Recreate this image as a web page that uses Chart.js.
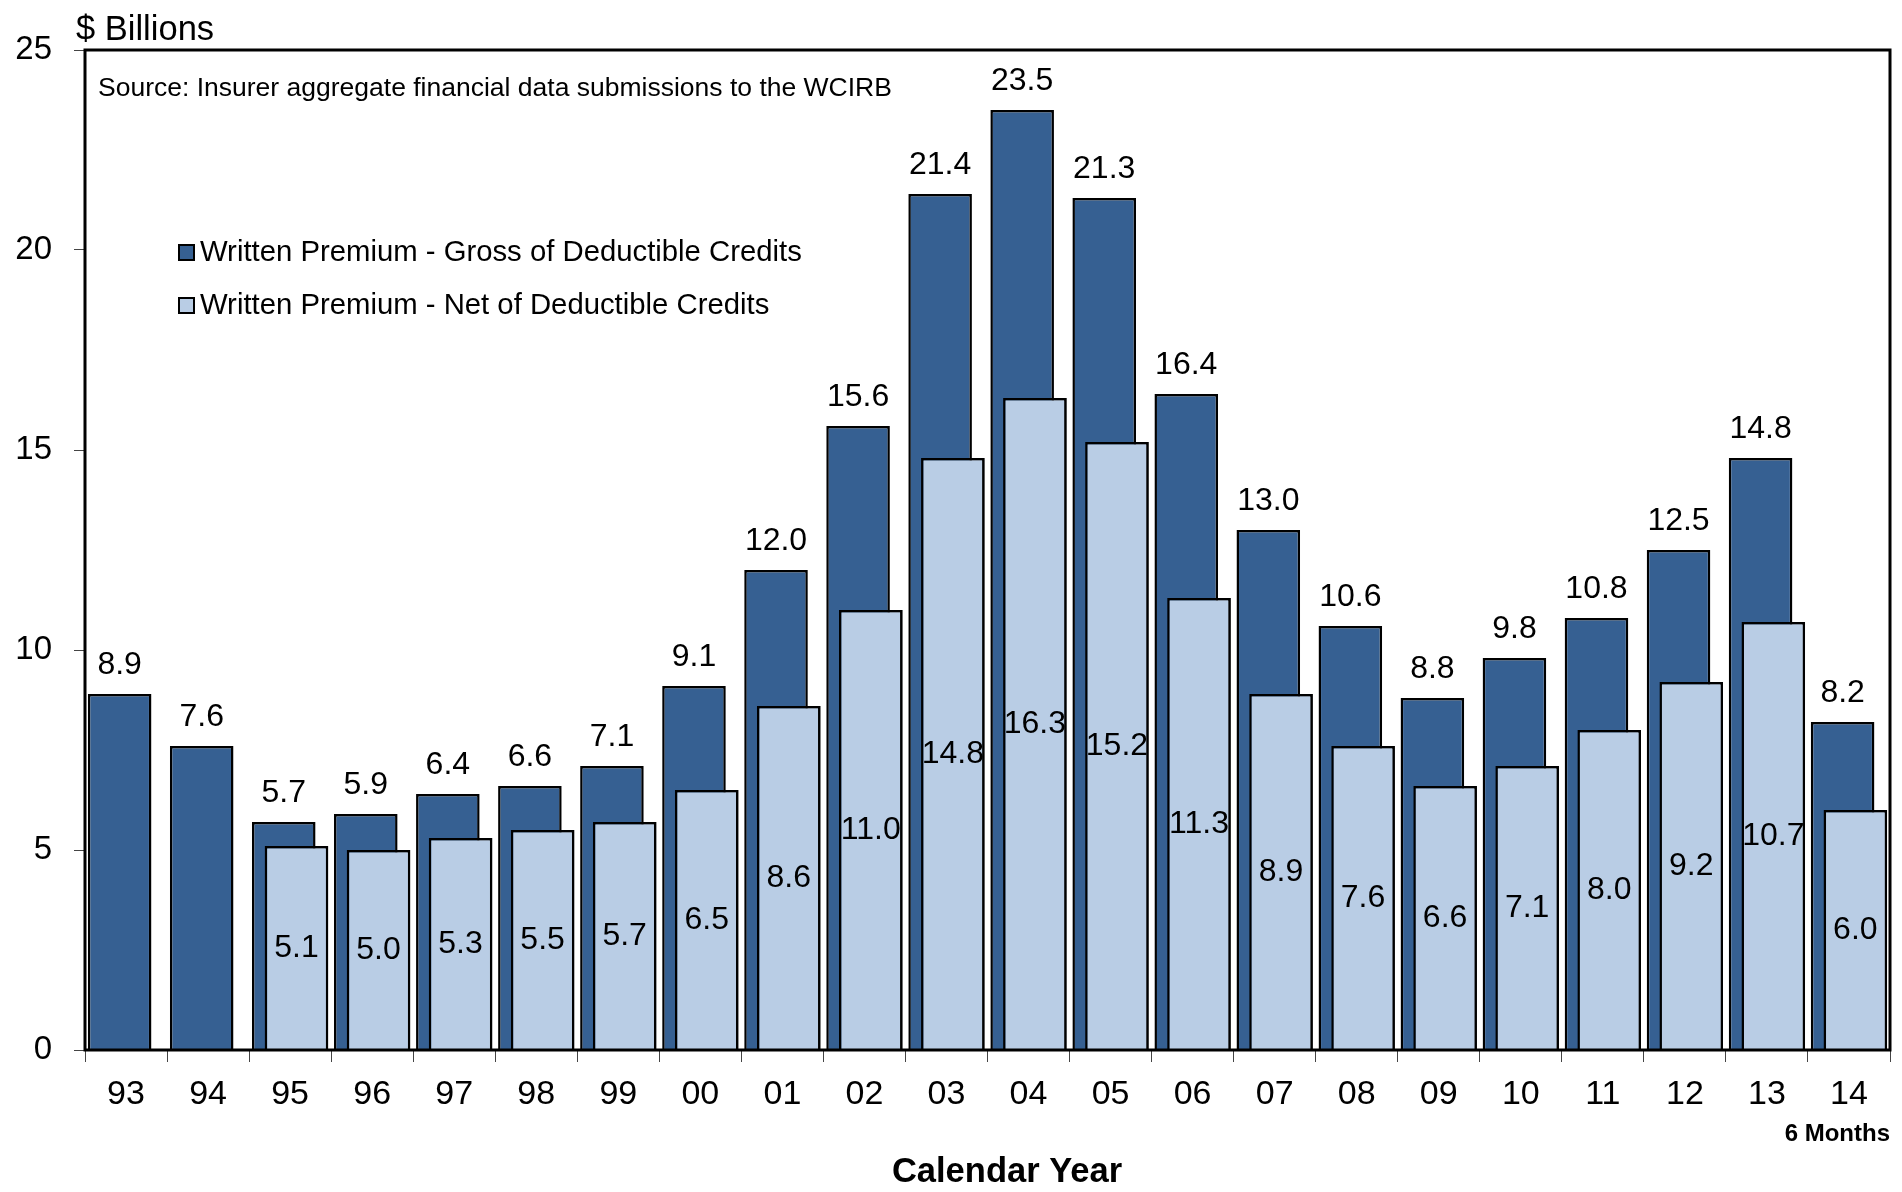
<!DOCTYPE html>
<html>
<head>
<meta charset="utf-8">
<script src="https://cdn.jsdelivr.net/npm/chart.js@4.4.1/dist/chart.umd.min.js"></script>
<style>
  html, body { margin: 0; padding: 0; background: #fff; }
  #wrap { width: 1902px; height: 1192px; position: relative; }
</style>
</head>
<body>
<div id="wrap"><canvas id="premiumChart"></canvas></div>
<script>
const years = ['93', '94', '95', '96', '97', '98', '99', '00', '01', '02', '03',
    '04', '05', '06', '07', '08', '09', '10', '11', '12', '13', '14'];
const grossPremium = [8.9, 7.6, 5.7, 5.9, 6.4, 6.6, 7.1, 9.1, 12.0, 15.6, 21.4,
    23.5, 21.3, 16.4, 13.0, 10.6, 8.8, 9.8, 10.8, 12.5, 14.8, 8.2];
const netPremium = [null, null, 5.1, 5.0, 5.3, 5.5, 5.7, 6.5, 8.6, 11.0, 14.8,
    16.3, 15.2, 11.3, 8.9, 7.6, 6.6, 7.1, 8.0, 9.2, 10.7, 6.0];
const yTicks = [0, 5, 10, 15, 20, 25];

const seriesNames = [
    'Written Premium - Gross of Deductible Credits',
    'Written Premium - Net of Deductible Credits',
];
const darkBlue = '#366092';
const lightBlue = '#b9cde5';
const FONT = '"Liberation Sans", Arial, sans-serif';

// net bars sit in front of the gross bars, then frame, labels, legend, captions
const decorPlugin = {
    id: 'decor',
    afterDatasetsDraw(chart) {
        const { ctx, chartArea } = chart;
        ctx.save();

        chart.getDatasetMeta(1).data.forEach((bar, i) => {
            if (netPremium[i] != null) bar.draw(ctx);
        });

        ctx.strokeStyle = '#000';
        ctx.lineWidth = 3;
        ctx.strokeRect(chartArea.left, chartArea.top, chartArea.right - chartArea.left, chartArea.bottom - chartArea.top);

        ctx.fillStyle = '#000';
        ctx.font = `32px ${FONT}`;
        ctx.textAlign = 'center';

        chart.getDatasetMeta(0).data.forEach((bar, i) => {
            ctx.textBaseline = 'bottom';
            ctx.fillText(grossPremium[i].toFixed(1), bar.x, bar.y - 13);
        });
        chart.getDatasetMeta(1).data.forEach((bar, i) => {
            if (netPremium[i] == null) return;
            ctx.textBaseline = 'middle';
            ctx.fillText(netPremium[i].toFixed(1), bar.x, (bar.y + bar.base) / 2);
        });

        // legend inside plot
        ctx.textAlign = 'left';
        ctx.textBaseline = 'middle';
        ctx.font = `29.3px ${FONT}`;
        [darkBlue, lightBlue].forEach((color, i) => {
            const y = 253 + i * 53;
            ctx.fillStyle = color;
            ctx.fillRect(179, y - 8, 15, 15);
            ctx.lineWidth = 2;
            ctx.strokeStyle = '#000';
            ctx.strokeRect(179, y - 8, 15, 15);
            ctx.fillStyle = '#000';
            ctx.fillText(seriesNames[i], 200, y);
        });

        ctx.font = `26.5px ${FONT}`;
        ctx.fillText('Source: Insurer aggregate financial data submissions to the WCIRB', 98, 89);

        ctx.font = `34.5px ${FONT}`;
        ctx.textBaseline = 'alphabetic';
        ctx.fillText('$ Billions', 76, 40);

        ctx.font = `bold 24px ${FONT}`;
        ctx.textAlign = 'right';
        ctx.textBaseline = 'middle';
        ctx.fillText('6 Months', chartArea.right, 1134);

        ctx.font = `bold 34.5px ${FONT}`;
        ctx.textAlign = 'center';
        ctx.fillText('Calendar Year', 1007, 1172);

        ctx.restore();
    },
};

new Chart(document.getElementById('premiumChart'), {
    type: 'bar',
    data: {
        labels: years,
        datasets: [
            {
                label: seriesNames[0],
                data: grossPremium,
                backgroundColor: darkBlue,
                borderColor: '#000',
                borderWidth: 2.5,
                categoryPercentage: 0.31,
                barPercentage: 5.0,
            },
            {
                label: seriesNames[1],
                data: netPremium,
                backgroundColor: lightBlue,
                borderColor: '#000',
                borderWidth: 2.5,
                categoryPercentage: 0.31,
                barPercentage: 5.0,
            },
        ],
    },
    options: {
        responsive: true,
        maintainAspectRatio: false,
        animation: false,
        layout: { padding: { top: 50, right: 12, left: 0, bottom: 0 } },
        plugins: {
            legend: { display: false },
            tooltip: { enabled: false },
        },
        scales: {
            x: {
                grid: {
                    offset: true,
                    drawOnChartArea: false,
                    tickLength: 12,
                    color: '#444',
                },
                border: { display: false },
                ticks: {
                    color: '#000',
                    font: { family: FONT, size: 34 },
                    padding: 12,
                    maxRotation: 0,
                },
                afterFit(scale) { scale.height = 142; },
            },
            y: {
                min: 0,
                max: 25,
                afterBuildTicks(scale) { scale.ticks = yTicks.map((v) => ({ value: v })); },
                grid: {
                    drawOnChartArea: false,
                    tickLength: 11,
                    color: '#444',
                },
                border: { display: false },
                ticks: {
                    color: '#000',
                    font: { family: FONT, size: 33 },
                    padding: 22,
                },
                afterFit(scale) { scale.width = 85; },
            },
        },
    },
    plugins: [decorPlugin],
});
</script>
</body>
</html>
